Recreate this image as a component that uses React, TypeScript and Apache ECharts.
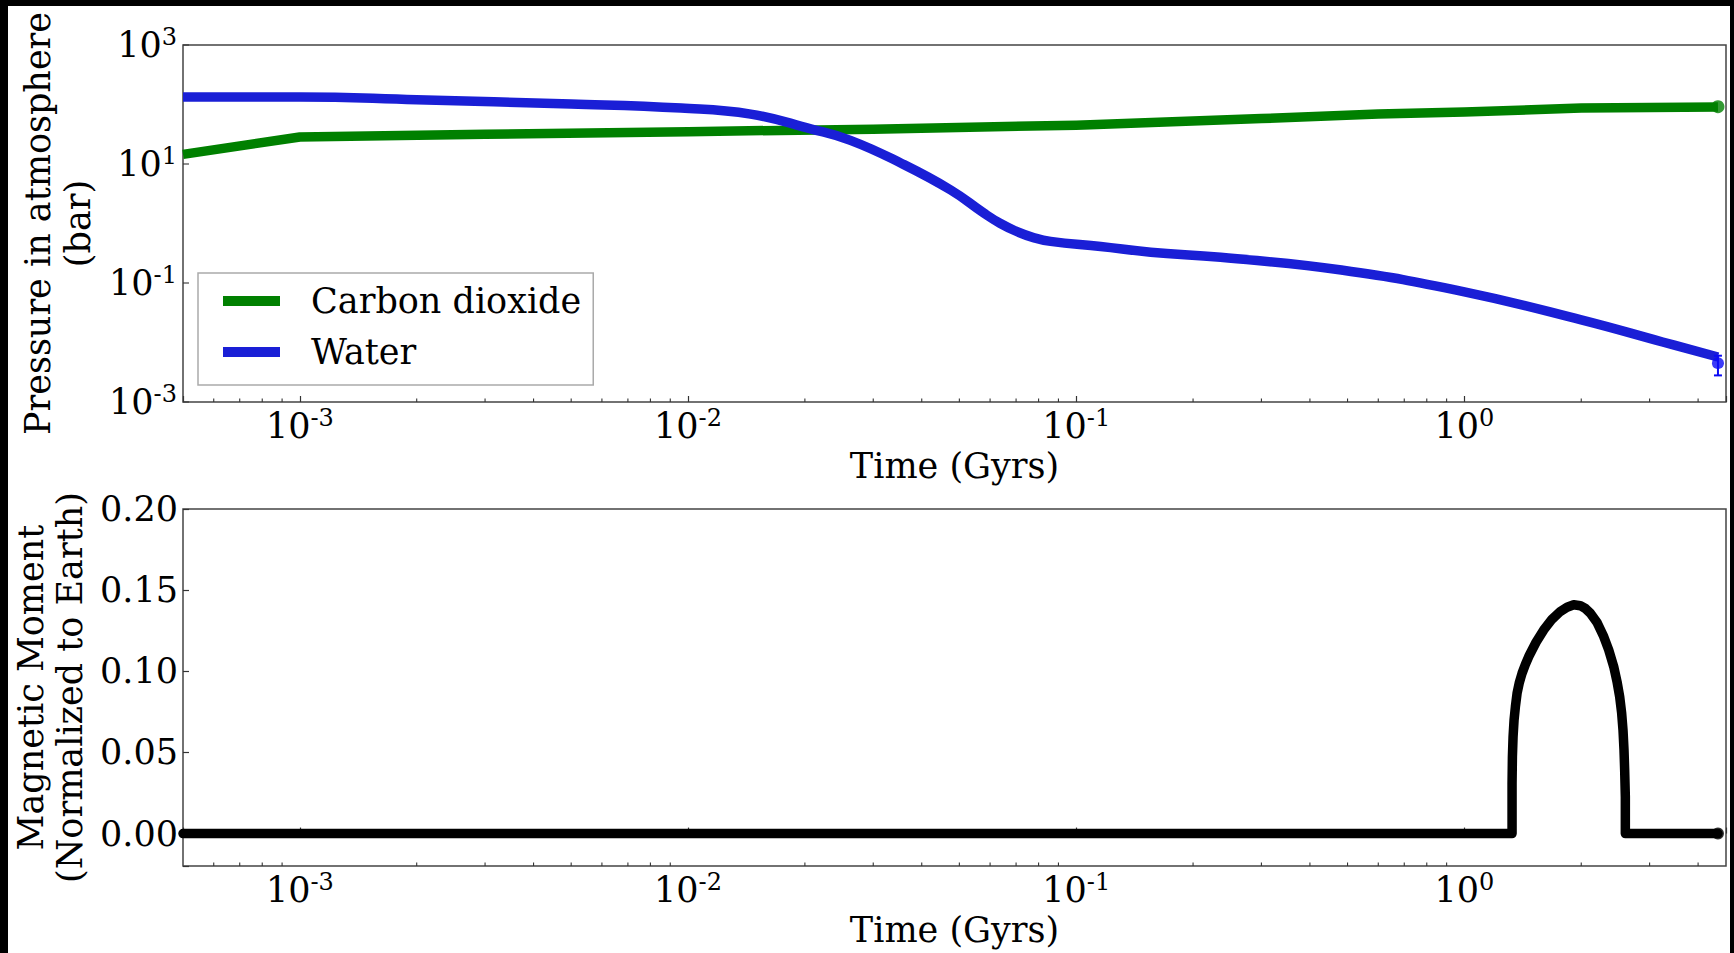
import React, { useEffect, useRef } from 'react';
import * as echarts from 'echarts';

const FONT = '"DejaVu Serif", serif';

// Top panel: pressure in atmosphere (bar) vs time (Gyrs)
const co2Time = [5e-4, 1e-3, 3e-3, 0.01, 0.03, 0.1, 0.3, 0.6, 1, 2, 4.5];
const co2Pressure = [14.5, 28.5, 31.5, 35, 38.5, 45, 58, 69, 75, 87, 91];

const waterTime = [5e-4, 1e-3, 2e-3, 5e-3, 0.0096, 0.0145, 0.0207, 0.0262, 0.0353, 0.0475, 0.0578, 0.0638, 0.0707, 0.0776, 0.0859, 0.1156, 0.1556, 0.2355, 0.482, 1.0, 2.0, 3.24, 4.5];
const waterPressure = [134, 134, 120, 102, 87, 69, 39, 25, 10.4, 3.66, 1.5, 1.0, 0.72, 0.58, 0.5, 0.41, 0.33, 0.27, 0.165, 0.071, 0.024, 0.0102, 0.0057];

// Bottom panel: magnetic moment (normalized to Earth)
const magTime = [5e-4, 1.3268, 1.3268, 1.3295, 1.3348, 1.3427, 1.3534, 1.3668, 1.3859, 1.408, 1.4361, 1.4648, 1.5298, 1.6009, 1.682, 1.7672, 1.8385, 1.9127, 1.9898, 2.0497, 2.1113, 2.1965, 2.2851, 2.3538, 2.4246, 2.473, 2.512, 2.542, 2.5622, 2.5774, 2.5876, 2.5979, 2.5979, 4.5];
const magMoment = [0, 0, 0.0309, 0.0473, 0.0597, 0.07, 0.0782, 0.0864, 0.0932, 0.0988, 0.1043, 0.1091, 0.1179, 0.1255, 0.1321, 0.1369, 0.1395, 0.141, 0.1404, 0.1387, 0.1358, 0.1301, 0.1214, 0.1132, 0.1029, 0.0936, 0.0844, 0.0741, 0.0638, 0.0515, 0.0391, 0.0226, 0, 0];

// Present-day observations (end points)
const obsTime = 4.5;
const obsCo2 = 92;
const obsWater = 0.0045;
const obsWaterLow = 0.0028;
const obsWaterHigh = 0.006;
const obsMag = 0;

// Axis ranges and ticks
const timeMin = 5e-4;
const timeMax = 4.72;
const pressureMin = 1e-3;
const pressureMax = 1e3;
const momentMin = -0.02;
const momentMax = 0.2;
const timeMinorTicks = [6e-4, 7e-4, 8e-4, 9e-4, 2e-3, 3e-3, 4e-3, 5e-3, 6e-3, 7e-3, 8e-3, 9e-3, 0.02, 0.03, 0.04, 0.05, 0.06, 0.07, 0.08, 0.09, 0.2, 0.3, 0.4, 0.5, 0.6, 0.7, 0.8, 0.9, 2, 3, 4];
const pressureTicks = [1e-3, 1e-1, 1e1, 1e3];

const TICK_COLOR = '#333';
const FRAME_COLOR = '#444';
const GREEN = '#008000';
const BLUE = '#1a1fd6';
const BLUE_DOT = '#0a0af5';

const richPow = {
  b: { fontFamily: FONT, fontSize: 35, lineHeight: 40, color: '#000' },
  s: { fontFamily: FONT, fontSize: 24, lineHeight: 16, verticalAlign: 'top', color: '#000' },
};

function powLabel(v: number): string {
  const e = Math.log10(v);
  const r = Math.round(e);
  if (Math.abs(e - r) > 1e-6) return '';
  return `{b|10}{s|${r}}`;
}

function oddPowLabel(v: number): string {
  const e = Math.log10(v);
  const r = Math.round(e);
  if (Math.abs(e - r) > 1e-6) return '';
  if (r % 2 === 0) return '';
  return `{b|10}{s|${r}}`;
}

const nameStyle = { fontFamily: FONT, fontSize: 35, color: '#000', lineHeight: 40 };

function timeAxis(gridIndex: number) {
  return {
    type: 'log',
    logBase: 10,
    gridIndex,
    min: timeMin,
    max: timeMax,
    name: 'Time (Gyrs)',
    nameLocation: 'middle',
    nameGap: 44,
    nameTextStyle: nameStyle,
    axisLine: { show: false },
    axisTick: { show: true, inside: true, length: 6, lineStyle: { color: TICK_COLOR, width: 1.2 } },
    minorTick: { show: false },
    splitLine: { show: false },
    axisLabel: { formatter: powLabel, rich: richPow, margin: 4 },
  };
}

function tickSeries(data: number[][], xAxisIndex: number, yAxisIndex: number, dir: 'x' | 'y', len: number) {
  return {
    type: 'custom',
    xAxisIndex,
    yAxisIndex,
    silent: true,
    z: 4,
    data,
    renderItem: (_params: any, api: any) => {
      const p = api.coord([api.value(0), api.value(1)]);
      const shape =
        dir === 'x'
          ? { x1: p[0], y1: p[1], x2: p[0], y2: p[1] - len }
          : { x1: p[0], y1: p[1], x2: p[0] + len, y2: p[1] };
      return { type: 'line', shape, style: { stroke: TICK_COLOR, lineWidth: 1.1 } };
    },
  };
}

export default function App() {
  const ref = useRef<HTMLDivElement>(null);

  useEffect(() => {
    if (!ref.current) return;
    const chart = echarts.init(ref.current, null, { renderer: 'svg' });

    const co2Data = co2Time.map((t, i) => [t, co2Pressure[i]]);
    const waterData = waterTime.map((t, i) => [t, waterPressure[i]]);
    const magData = magTime.map((t, i) => [t, magMoment[i]]);

    const option: any = {
      animation: false,
      backgroundColor: '#000',
      textStyle: { fontFamily: FONT },
      graphic: [
        {
          type: 'rect',
          z: -100,
          silent: true,
          shape: { x: 8, y: 6, width: 1722, height: 947 },
          style: { fill: '#fff' },
        },
      ],
      grid: [
        { left: 183, top: 45, width: 1543, height: 357, show: true, borderColor: FRAME_COLOR, borderWidth: 1.5, backgroundColor: 'transparent', outerBoundsMode: 'none' },
        { left: 183, top: 509, width: 1543, height: 357, show: true, borderColor: FRAME_COLOR, borderWidth: 1.5, backgroundColor: 'transparent', outerBoundsMode: 'none' },
      ],
      xAxis: [timeAxis(0), timeAxis(1)],
      yAxis: [
        {
          type: 'log',
          logBase: 10,
          gridIndex: 0,
          min: pressureMin,
          max: pressureMax,
          name: 'Pressure in atmosphere\n(bar)',
          nameLocation: 'middle',
          nameGap: 82,
          nameTextStyle: nameStyle,
          axisLine: { show: false },
          axisTick: { show: false },
          splitLine: { show: false },
          axisLabel: { formatter: oddPowLabel, rich: richPow, margin: 6 },
        },
        {
          type: 'value',
          gridIndex: 1,
          min: momentMin,
          max: momentMax,
          name: 'Magnetic Moment\n(Normalized to Earth)',
          nameLocation: 'middle',
          nameGap: 92,
          nameTextStyle: { ...nameStyle, lineHeight: 39 },
          axisLine: { show: false },
          axisTick: { show: true, inside: true, length: 6, lineStyle: { color: TICK_COLOR, width: 1.2 } },
          splitLine: { show: false },
          axisLabel: {
            formatter: (v: number) => (v < -1e-9 ? '' : v.toFixed(2)),
            fontFamily: FONT,
            fontSize: 35,
            color: '#000',
            margin: 5,
          },
        },
      ],
      legend: {
        data: ['Carbon dioxide', 'Water'],
        orient: 'vertical',
        left: 198,
        top: 273,
        padding: [8, 12, 13, 20],
        itemGap: 11,
        itemWidth: 57,
        itemHeight: 10,
        backgroundColor: '#fff',
        borderColor: '#aaa',
        borderWidth: 1.5,
        borderRadius: 0,
        lineStyle: { width: 10 },
        textStyle: { fontFamily: FONT, fontSize: 35, color: '#000', lineHeight: 40, padding: [0, 0, 0, 26] },
      },
      series: [
        {
          name: 'Carbon dioxide',
          type: 'line',
          xAxisIndex: 0,
          yAxisIndex: 0,
          data: co2Data,
          symbol: 'none',
          color: GREEN,
          lineStyle: { color: GREEN, width: 9.5, join: 'round' },
          z: 2,
        },
        {
          name: 'Water',
          type: 'line',
          xAxisIndex: 0,
          yAxisIndex: 0,
          data: waterData,
          symbol: 'none',
          smooth: 0.45,
          color: BLUE,
          lineStyle: { color: BLUE, width: 9.5, join: 'round' },
          z: 2,
        },
        {
          name: 'co2-obs',
          type: 'scatter',
          xAxisIndex: 0,
          yAxisIndex: 0,
          data: [[obsTime, obsCo2]],
          symbol: 'circle',
          symbolSize: 13,
          itemStyle: { color: GREEN },
          z: 3,
        },
        {
          name: 'water-obs-err',
          type: 'custom',
          xAxisIndex: 0,
          yAxisIndex: 0,
          silent: true,
          z: 3,
          data: [[obsTime, obsWaterLow, obsWaterHigh]],
          renderItem: (_params: any, api: any) => {
            const lo = api.coord([api.value(0), api.value(1)]);
            const hi = api.coord([api.value(0), api.value(2)]);
            const w = 4;
            const st = { stroke: BLUE_DOT, lineWidth: 2 };
            return {
              type: 'group',
              children: [
                { type: 'line', shape: { x1: lo[0], y1: lo[1], x2: hi[0], y2: hi[1] }, style: st },
                { type: 'line', shape: { x1: lo[0] - w, y1: lo[1], x2: lo[0] + w, y2: lo[1] }, style: st },
                { type: 'line', shape: { x1: hi[0] - w, y1: hi[1], x2: hi[0] + w, y2: hi[1] }, style: st },
              ],
            };
          },
        },
        {
          name: 'water-obs',
          type: 'scatter',
          xAxisIndex: 0,
          yAxisIndex: 0,
          data: [[obsTime, obsWater]],
          symbol: 'circle',
          symbolSize: 12,
          itemStyle: { color: BLUE_DOT },
          z: 3,
        },
        {
          name: 'Magnetic moment',
          type: 'line',
          xAxisIndex: 1,
          yAxisIndex: 1,
          data: magData,
          symbol: 'none',
          color: '#000',
          lineStyle: { color: '#000', width: 9.5, join: 'round', cap: 'round' },
          z: 2,
        },
        {
          name: 'mag-obs',
          type: 'scatter',
          xAxisIndex: 1,
          yAxisIndex: 1,
          data: [[obsTime, obsMag]],
          symbol: 'circle',
          symbolSize: 12,
          itemStyle: { color: '#000' },
          z: 3,
        },
        tickSeries(timeMinorTicks.map((t) => [t, pressureMin]), 0, 0, 'x', 3.5),
        tickSeries(pressureTicks.map((p) => [timeMin, p]), 0, 0, 'y', 6),
        tickSeries(timeMinorTicks.map((t) => [t, momentMin]), 1, 1, 'x', 3.5),
      ],
    };

    chart.setOption(option);
    return () => chart.dispose();
  }, []);

  return (
    <div ref={ref} style={{ position: 'fixed', left: 0, top: 0, width: 1734, height: 953, background: '#000' }} />
  );
}
